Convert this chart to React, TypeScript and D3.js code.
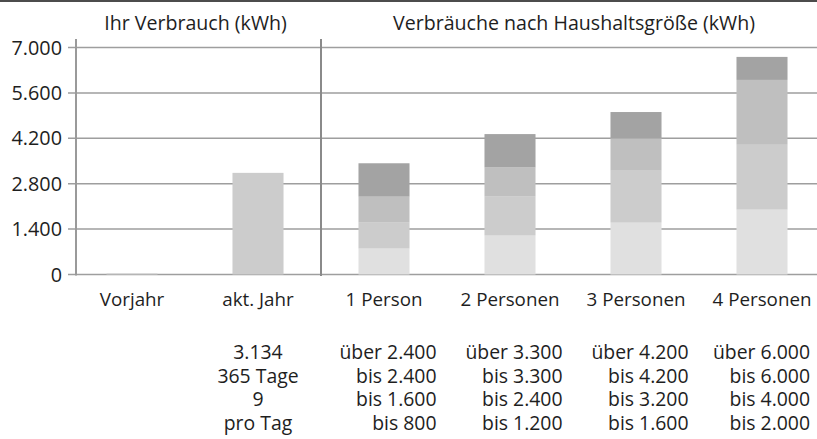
import React from "react";
import * as d3 from "d3";

const categories = ["Vorjahr", "akt. Jahr", "1 Person", "2 Personen", "3 Personen", "4 Personen"];
const ownCategories = ["Vorjahr", "akt. Jahr"];
const ownValues = [30, 3134];
const householdCategories = ["1 Person", "2 Personen", "3 Personen", "4 Personen"];
// cumulative tops of the stacked tiers
const tier1Top = [800, 1200, 1600, 2000];
const tier2Top = [1600, 2400, 3200, 4000];
const tier3Top = [2400, 3300, 4200, 6000];
const tier4Top = [3430, 4330, 5010, 6710];
const yTicks = [0, 1400, 2800, 4200, 5600, 7000];
const ownInfo = ["3.134", "365 Tage", "9", "pro Tag"];
const householdInfo = [
  ["über 2.400", "bis 2.400", "bis 1.600", "bis 800"],
  ["über 3.300", "bis 3.300", "bis 2.400", "bis 1.200"],
  ["über 4.200", "bis 4.200", "bis 3.200", "bis 1.600"],
  ["über 6.000", "bis 6.000", "bis 4.000", "bis 2.000"],
];
const leftTitle = "Ihr Verbrauch (kWh)";
const rightTitle = "Verbräuche nach Haushaltsgröße (kWh)";

const tierColors = ["#e0e0e0", "#cccccc", "#bfbfbf", "#a3a3a3"];
const W = 817;
const H = 439;
const FONT = "'Open Sans', 'Noto Sans', sans-serif";
const TEXT = "#1e1e1e";

const fmt = (v: number) => {
  const s = String(Math.round(v));
  return s.replace(/\B(?=(\d{3})+(?!\d))/g, ".");
};

export default function App() {
  const x = d3.scaleBand<string>().domain(categories).range([69, 825]).paddingInner(0.595).paddingOuter(0.2975);
  const y = d3.scaleLinear().domain([0, 7000]).range([274.5, 47.5]);
  const axisX = 76;
  const dividerX = ((x("akt. Jahr") as number) + x.bandwidth() + (x("1 Person") as number)) / 2;
  const cx = (c: string) => (x(c) as number) + x.bandwidth() / 2;
  const tiers = [tier1Top, tier2Top, tier3Top, tier4Top];
  const infoBase = 359;
  const lineStep = 23.5;

  return (
    <svg width={W} height={H} style={{ position: "absolute", left: 0, top: 0, background: "#fff" }} fontFamily={FONT}>
      <line x1={0} x2={W} y1={1} y2={1} stroke="#111" strokeWidth={1.5} />
      {yTicks.map((t) => (
        <g key={t}>
          <line x1={axisX - 8} x2={W} y1={y(t)} y2={y(t)} stroke="#9e9e9e" strokeWidth={1.5} />
          <text x={62} y={y(t)} dy="0.36em" textAnchor="end" fontSize={19.8} fill={TEXT}>
            {fmt(t)}
          </text>
        </g>
      ))}
      {ownCategories.map((c, i) => (
        <rect key={c} x={x(c)} width={x.bandwidth()} y={y(ownValues[i])} height={y(0) - y(ownValues[i])} fill="#cccccc" />
      ))}
      {householdCategories.map((c, i) =>
        tiers.map((tier, k) => {
          const lo = k === 0 ? 0 : tiers[k - 1][i];
          const hi = tier[i];
          return <rect key={c + k} x={x(c)} width={x.bandwidth()} y={y(hi)} height={y(lo) - y(hi)} fill={tierColors[k]} />;
        })
      )}
      <line x1={axisX} x2={axisX} y1={39} y2={275.5} stroke="#9a9a9a" strokeWidth={2} />
      <line x1={dividerX} x2={dividerX} y1={39} y2={276} stroke="#8a8a8a" strokeWidth={2} />
      <text x={(axisX + dividerX) / 2 - 3} y={30} textAnchor="middle" fontSize={19.6} fill={TEXT}>
        {leftTitle}
      </text>
      <text x={(dividerX + 825) / 2 + 1} y={30} textAnchor="middle" fontSize={19.6} fill={TEXT}>
        {rightTitle}
      </text>
      {categories.map((c) => (
        <text key={c} x={cx(c)} y={306} textAnchor="middle" fontSize={18.8} fill={TEXT}>
          {c}
        </text>
      ))}
      {ownInfo.map((s, j) => (
        <text key={s} x={cx("akt. Jahr")} y={infoBase + j * lineStep} textAnchor="middle" fontSize={19.4} fill={TEXT}>
          {s}
        </text>
      ))}
      {householdCategories.map((c, i) =>
        householdInfo[i].map((s, j) => (
          <text
            key={c + j}
            x={Math.min(cx(c) + 52.5, 810)}
            y={infoBase + j * lineStep}
            textAnchor="end"
            fontSize={19.4}
            fill={TEXT}
          >
            {s}
          </text>
        ))
      )}
    </svg>
  );
}
